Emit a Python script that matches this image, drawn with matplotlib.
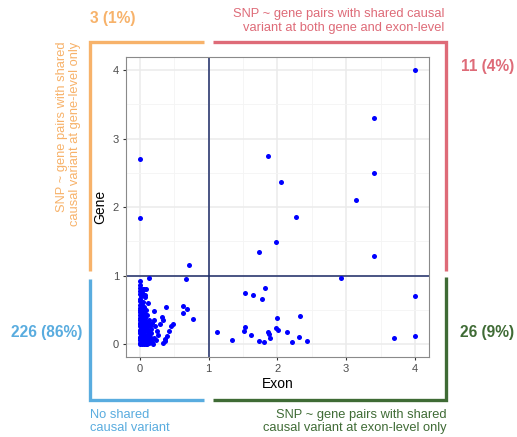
import numpy as np
import matplotlib.pyplot as plt
from matplotlib.lines import Line2D

plt.rcParams['font.family'] = ['Liberation Sans', 'DejaVu Sans']

# exon / gene values, grouped by quadrant
exon_ll = [0.0, 0.0, 0.01, 0.0, 0.02, 0.0, 0.01, 0.0, 0.02, 0.0, 0.01, 0.0, 0.02, 0.0, 0.01,
           0.0, 0.02, 0.0, 0.01, 0.0, 0.02, 0.0, 0.01, 0.0, 0.02, 0.0, 0.01, 0.0, 0.02, 0.0,
           0.01, 0.03, 0.0,
           0.06, 0.09, 0.04, 0.07, 0.05, 0.04, 0.06, 0.05, 0.04, 0.07, 0.05, 0.06, 0.08, 0.04,
           0.07, 0.05, 0.08, 0.04, 0.06, 0.08, 0.05, 0.07, 0.04, 0.06, 0.09,
           0.03, 0.08, 0.03, 0.09, 0.03, 0.08, 0.03, 0.09, 0.03, 0.08, 0.10, 0.03,
           0.13, 0.10, 0.12, 0.11, 0.14, 0.10, 0.13, 0.11, 0.15, 0.10, 0.12, 0.14, 0.11, 0.13,
           0.10, 0.12, 0.15, 0.16, 0.14,
           0.21, 0.20, 0.18, 0.22, 0.25, 0.26, 0.20, 0.18, 0.19, 0.16, 0.17, 0.23,
           0.38, 0.32, 0.34, 0.30, 0.49, 0.46, 0.43, 0.39, 0.37, 0.36, 0.34, 0.63, 0.68, 0.63,
           0.77, 0.67]
gene_ll = [0.92, 0.82, 0.78, 0.74, 0.71, 0.66, 0.63, 0.58, 0.56, 0.53, 0.50, 0.47, 0.45, 0.42, 0.39,
           0.36, 0.34, 0.31, 0.29, 0.26, 0.24, 0.21, 0.19, 0.16, 0.14, 0.11, 0.09, 0.06, 0.04, 0.02,
           0.00, 0.01, 0.86,
           0.81, 0.81, 0.80, 0.69, 0.74, 0.62, 0.55, 0.52, 0.48, 0.44, 0.40, 0.36, 0.33, 0.30,
           0.27, 0.24, 0.21, 0.18, 0.15, 0.12, 0.09, 0.06, 0.03, 0.01, 0.00,
           0.77, 0.72, 0.57, 0.50, 0.43, 0.38, 0.33, 0.23, 0.17, 0.10, 0.26, 0.07,
           0.96, 0.32, 0.28, 0.25, 0.30, 0.20, 0.17, 0.14, 0.11, 0.08, 0.05, 0.02, 0.00, 0.35,
           0.42, 0.60, 0.27, 0.07, 0.19,
           0.49, 0.36, 0.31, 0.26, 0.20, 0.13, 0.09, 0.03, 0.01, 0.22, 0.16, 0.06,
           0.54, 0.40, 0.36, 0.29, 0.29, 0.26, 0.20, 0.12, 0.08, 0.05, 0.02, 0.56, 0.51, 0.45,
           0.37, 0.95]

exon_ul = [0.0, 0.0, 0.72]
gene_ul = [2.70, 1.84, 1.16]

exon_ur = [4.0, 3.40, 1.87, 2.06, 3.40, 3.15, 2.27, 1.98, 1.73, 3.40]
gene_ur = [4.0, 3.30, 2.74, 2.37, 2.50, 2.11, 1.85, 1.49, 1.34, 1.29]

exon_lr = [1.13, 1.34, 1.53, 1.64, 1.82, 1.78, 2.00, 2.33, 1.53, 1.52, 1.62, 1.73, 1.80,
           1.86, 1.88, 1.89, 1.98, 2.01, 2.14, 2.22, 2.32, 2.43, 2.92, 4.0, 3.70, 4.0]
gene_lr = [0.175, 0.06, 0.75, 0.72, 0.82, 0.66, 0.39, 0.41, 0.25, 0.20, 0.13, 0.05, 0.03,
           0.175, 0.15, 0.09, 0.24, 0.21, 0.18, 0.03, 0.10, 0.05, 0.96, 0.70, 0.09, 0.12]

exon = np.array(exon_ll + exon_ul + exon_ur + exon_lr)
gene = np.array(gene_ll + gene_ul + gene_ur + gene_lr)

c_orange = '#F7B26A'
c_red = '#DE6B78'
c_blue = '#59ACDF'
c_green = '#3F6B35'

W, H = 517, 437
fig = plt.figure(figsize=(W / 100, H / 100), dpi=100)
ax = fig.add_axes([126 / W, 1 - 357.3 / H, (428.7 - 126) / W, (357.3 - 57) / H])

ax.set_xlim(-0.2, 4.2)
ax.set_ylim(-0.19, 4.19)
ax.set_xticks([0, 1, 2, 3, 4])
ax.set_yticks([0, 1, 2, 3, 4])
ax.set_xticks(np.arange(0.5, 4, 1), minor=True)
ax.set_yticks(np.arange(0.5, 4, 1), minor=True)
ax.grid(which='major', color='#EBEBEB', lw=1.1)
ax.grid(which='minor', color='#F4F4F4', lw=0.6)
ax.set_axisbelow(True)
ax.tick_params(which='major', length=2.5, width=0.8, color='#333333', labelcolor='#4D4D4D',
               labelsize=8, pad=2.5)
ax.tick_params(which='minor', length=0)
for s in ax.spines.values():
    s.set_color('#8A8A8A')
    s.set_linewidth(0.8)

ax.axvline(1, color='#1C2A66', lw=1.1, zorder=2)
ax.axhline(1, color='#1C2A66', lw=1.1, zorder=2)
ax.scatter(exon, gene, s=13, color='#0000FF', linewidths=0, zorder=3)

ax.set_xlabel('Exon', fontsize=10, labelpad=2)
ax.set_ylabel('Gene', fontsize=10, labelpad=4)


def fx(x):
    return x / W


def fy(y):
    return 1 - y / H


def bracket(xs, ys, color):
    fig.add_artist(Line2D([fx(v) for v in xs], [fy(v) for v in ys], color=color, lw=2.4,
                          solid_capstyle='butt', solid_joinstyle='miter',
                          transform=fig.transFigure))


bracket([204, 90, 90], [42.3, 42.3, 270.7], c_orange)
bracket([213.3, 445.5, 445.5], [42.3, 42.3, 270.7], c_red)
bracket([90, 90, 204], [278.7, 399.7, 399.7], c_blue)
bracket([213.3, 445.5, 445.5], [399.7, 399.7, 277.3], c_green)

big = dict(fontsize=11.2, fontweight='bold', va='center')
small = dict(fontsize=9.3, linespacing=1.15)

fig.text(fx(90), fy(18), '3 (1%)', color=c_orange, ha='left', **big)
fig.text(fx(444), fy(21), 'SNP ~ gene pairs with shared causal\nvariant at both gene and exon-level',
         color=c_red, ha='right', va='center', multialignment='right', **small)
fig.text(fx(514), fy(67), '11 (4%)', color=c_red, ha='right', **big)
fig.text(fx(82), fy(333), '226 (86%)', color=c_blue, ha='right', **big)
fig.text(fx(514), fy(333), '26 (9%)', color=c_green, ha='right', **big)
fig.text(fx(89.5), fy(421.5), 'No shared\ncausal variant', color=c_blue,
         ha='left', va='center', **small)
fig.text(fx(447), fy(421.5), 'SNP ~ gene pairs with shared\ncausal variant at exon-level only',
         color=c_green, ha='right', va='center', multialignment='right', **small)
fig.text(fx(68.5), fy(41.5), 'SNP ~ gene pairs with shared\ncausal variant at gene-level only',
         color=c_orange, rotation=90, ha='center', va='top', multialignment='right', **small)

fig.savefig('out.png', dpi=100)
